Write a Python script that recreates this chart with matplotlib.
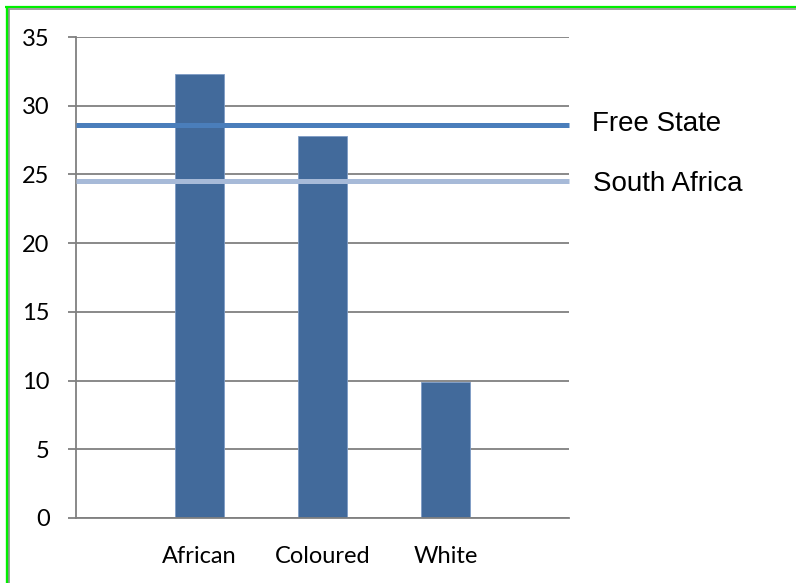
import matplotlib
matplotlib.use("Agg")
import matplotlib.pyplot as plt
from matplotlib.lines import Line2D

# data
groups = ["African", "Coloured", "White"]
values = [32.3, 27.8, 9.9]
ref_names = ["Free State", "South Africa"]
ref_values = [28.6, 24.5]
ref_colors = ["#4A7EBB", "#A7BAD8"]
yticks = [0, 5, 10, 15, 20, 25, 30, 35]

W, H = 796, 583
fig = plt.figure(figsize=(W / 100, H / 100), dpi=100)
fig.patch.set_facecolor("white")

# plot area in pixels: x 76..569, y 37..518
ax = fig.add_axes([76 / W, (H - 518) / H, 493 / W, 481 / H])

pos = [1, 2, 3]
ax.bar(pos, values, width=0.4, color="#426A9B", edgecolor="#7E9CC6",
       linewidth=0.6, zorder=2)

for name, v, c in zip(ref_names, ref_values, ref_colors):
    ax.plot([0, 4], [v, v], color=c, linewidth=3.6, zorder=3,
            solid_capstyle="butt", clip_on=False)

ax.set_xlim(0, 4)
ax.set_ylim(0, 35)
ax.set_yticks(yticks)
ax.set_xticks(pos)
ax.set_xticklabels(groups)
ax.yaxis.grid(True, color="#808080", linewidth=1.3, zorder=0)
ax.set_axisbelow(True)

for s in ["top", "right"]:
    ax.spines[s].set_visible(False)
for s in ["left", "bottom"]:
    ax.spines[s].set_color("#808080")
    ax.spines[s].set_linewidth(1.3)

tick_font = "Lato"
ax.tick_params(axis="y", length=6, width=1.3, color="#808080", pad=13,
               labelsize=17)
ax.tick_params(axis="x", length=0, pad=20, labelsize=17)
for lab in ax.get_xticklabels() + ax.get_yticklabels():
    lab.set_family(tick_font)

# labels for the reference lines, right of the plot
trans = ax.get_yaxis_transform()
ax.text(1.046, 28.19, "Free State", transform=trans, fontsize=20,
        family="Liberation Sans", va="baseline", ha="left")
ax.text(1.049, 23.82, "South Africa", transform=trans, fontsize=20,
        family="Liberation Sans", va="baseline", ha="left")

# frame: green outer line with a grey line just inside (left and top)
def px_line(x0, y0, x1, y1, color, lw):
    fig.add_artist(Line2D([x0 / W, x1 / W], [1 - y0 / H, 1 - y1 / H],
                          color=color, linewidth=lw, transform=fig.transFigure,
                          solid_capstyle="butt"))

px_line(6.5, 6, 6.5, H, "#00F000", 2.4)
px_line(5, 7, W, 7, "#00F000", 1.6)
px_line(9, 9, 9, H, "#909090", 1.2)
px_line(8, 9, W, 9, "#909090", 1.2)

fig.savefig("out.png", dpi=100)
